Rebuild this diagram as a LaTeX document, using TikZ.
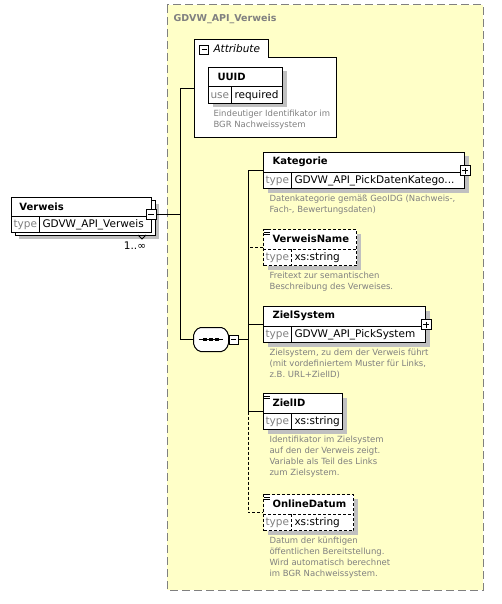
\documentclass[tikz,border=0pt]{standalone}
\usepackage{fontspec}
\setmainfont{DejaVu Sans}
\usetikzlibrary{calc,shadows}

\definecolor{groupyellow}{RGB}{255,255,200}
\definecolor{framegray}{RGB}{128,128,128}
\definecolor{docgray}{RGB}{128,128,128}
\definecolor{shadowgray}{RGB}{192,192,192}

\tikzset{
  elem/.style={draw,rectangle,fill=white,inner sep=0,minimum height=36,anchor=north west,
    drop shadow={shadow xshift=4pt,shadow yshift=-4pt,fill=shadowgray,opacity=1}},
  optelem/.style={elem,dash pattern=on 3pt off 2pt},
  ename/.style={anchor=west,inner sep=0,font=\bfseries\fontsize{10}{12}\selectfont},
  elabel/.style={anchor=west,inner sep=0,text=docgray,font=\fontsize{10.5}{12}\selectfont},
  etype/.style={anchor=west,inner sep=0,font=\fontsize{10.5}{12}\selectfont},
  edoc/.style={anchor=north west,inner sep=0,align=left,text=docgray,font=\fontsize{8.5}{11}\selectfont},
  pmbox/.style={draw,rectangle,fill=white,inner sep=0,minimum size=10,solid},
  minusbox/.style={pmbox,path picture={
    \draw ([xshift=2pt]path picture bounding box.west) -- ([xshift=-2pt]path picture bounding box.east);}},
  plusbox/.style={pmbox,path picture={
    \draw ([xshift=2pt]path picture bounding box.west) -- ([xshift=-2pt]path picture bounding box.east);
    \draw ([yshift=-2pt]path picture bounding box.north) -- ([yshift=2pt]path picture bounding box.south);}},
  noteicon/.style={inner sep=0,minimum width=6,minimum height=5,path picture={
    \foreach \k in {0,0.5,1}
      \draw[line width=0.7pt,solid] ($(path picture bounding box.north west)!\k!(path picture bounding box.south west)$)
        -- ($(path picture bounding box.north east)!\k!(path picture bounding box.south east)$);}},
  seqbox/.style={rectangle,minimum width=34,minimum height=23,inner sep=0},
  seqshadow/.style={fill=shadowgray},
  seqface/.style={draw,fill=white},
  optline/.style={dash pattern=on 3pt off 2pt}
}

\begin{document}
\begin{tikzpicture}[x=1pt,y=-1pt,line width=1pt]
\useasboundingbox (0,0) rectangle (501,604);

% Complex type frame
\draw[framegray,fill=groupyellow,dash pattern=on 8pt off 4pt] (167,5) rectangle (483,590);
\node[anchor=west,inner sep=0,text=framegray,font=\bfseries\fontsize{9.5}{12}\selectfont] (grouptitle) at (173,19) {GDVW\_API\_Verweis};

% Root element Verweis (repeated)
\fill[shadowgray] (19,204) rectangle (159,239);
\draw[fill=white] (15,200) rectangle (155,235);
\draw (138,235) -- (142,239) -- (146,235);
\node[draw,rectangle,fill=white,inner sep=0,minimum width=140,minimum height=35,anchor=north west] (verweis) at (11,197) {};
\draw ([yshift=-19pt]verweis.north west) -- ([yshift=-19pt]verweis.north east)
      ([shift={(28pt,-19pt)}]verweis.north west) -- ([xshift=28pt]verweis.south west);
\node[ename] (verweisname) at ([shift={(8pt,-10pt)}]verweis.north west) {Verweis};
\node[elabel] (verweislabel) at ([shift={(2pt,8pt)}]verweis.south west) {type};
\node[etype] (verweistype) at ([shift={(31pt,8pt)}]verweis.south west) {GDVW\_API\_Verweis};
\node[minusbox] (verweisminus) at (151,214) {};
\node[anchor=north,inner sep=0,font=\fontsize{10.5}{12}\selectfont] (verweisocc) at (135,241) {1..∞};

% Attribute group
\draw[fill=white] (194,138) -- (194,40) -- (268,40) -- (268,58) -- (336,58) -- (336,138) -- cycle;
\node[minusbox,minimum size=9] (attrminus) at (204,50) {};
\node[anchor=west,inner sep=0,font=\itshape\fontsize{10.5}{12}\selectfont] (attrtitle) at (213,49) {Attribute};
\coordinate (attrin) at (194,89);

% UUID
\node[elem,minimum width=74] (uuid) at (208,67) {};
\draw ([yshift=-20pt]uuid.north west) -- ([yshift=-20pt]uuid.north east)
      ([shift={(23pt,-20pt)}]uuid.north west) -- ([xshift=23pt]uuid.south west);
\node[ename] (uuidname) at ([shift={(9pt,-10pt)}]uuid.north west) {UUID};
\node[elabel] (uuidlabel) at ([shift={(2pt,8pt)}]uuid.south west) {use};
\node[etype] (uuidtype) at ([shift={(26pt,8pt)}]uuid.south west) {required};
\node[edoc] (uuiddoc) at ([shift={(5pt,-6pt)}]uuid.south west) {Eindeutiger Identifikator im\\BGR Nachweissystem};

% Sequence compositor
\node[seqbox] (seq) at (211,339.5) {};
\foreach \sh/\st in {4/seqshadow,0/seqface}
  \path[\st,rounded corners=2pt,xshift=\sh pt,yshift=-\sh pt]
    ([xshift=5pt]seq.north west) -- ([xshift=-5pt]seq.north east)
    -- ([yshift=-6pt]seq.north east) -- ([yshift=6pt]seq.south east)
    -- ([xshift=-5pt]seq.south east) -- ([xshift=5pt]seq.south west)
    -- ([yshift=6pt]seq.south west) -- ([yshift=-6pt]seq.north west) -- cycle;
\draw ([xshift=5pt]seq.west) -- ([xshift=-6pt]seq.east);
\foreach \dx in {-6,0,6}
  \fill ([xshift=\dx pt]seq.center) ++(-1.8,-1.8) rectangle ++(3.6,3.6);
\node[minusbox,minimum size=9] (seqminus) at (233.5,339.5) {};

% Kategorie
\node[elem,minimum width=201] (kat) at (263,152) {};
\draw ([yshift=-20pt]kat.north west) -- ([yshift=-20pt]kat.north east)
      ([shift={(28pt,-20pt)}]kat.north west) -- ([xshift=28pt]kat.south west);
\node[ename] (katname) at ([shift={(9pt,-10pt)}]kat.north west) {Kategorie};
\node[elabel] (katlabel) at ([shift={(2pt,8pt)}]kat.south west) {type};
\node[etype] (kattype) at ([shift={(31pt,8pt)}]kat.south west) {GDVW\_API\_PickDatenKatego...};
\node[plusbox] (katplus) at (kat.east) {};
\node[edoc] (katdoc) at ([shift={(6pt,-6pt)}]kat.south west) {Datenkategorie gemäß GeoIDG (Nachweis-,\\Fach-, Bewertungsdaten)};

% VerweisName
\node[optelem,minimum width=93] (vname) at (263,229) {};
\draw[optline] ([yshift=-20pt]vname.north west) -- ([yshift=-20pt]vname.north east)
      ([shift={(28pt,-20pt)}]vname.north west) -- ([xshift=28pt]vname.south west);
\node[noteicon] (vnameicon) at ([shift={(4pt,-3pt)}]vname.north west) {};
\node[ename] (vnamename) at ([shift={(9pt,-10pt)}]vname.north west) {VerweisName};
\node[elabel] (vnamelabel) at ([shift={(2pt,8pt)}]vname.south west) {type};
\node[etype] (vnametype) at ([shift={(31pt,8pt)}]vname.south west) {xs:string};
\node[edoc] (vnamedoc) at ([shift={(6pt,-6pt)}]vname.south west) {Freitext zur semantischen\\Beschreibung des Verweises.};

% ZielSystem
\node[elem,minimum width=162] (ziel) at (263,306) {};
\draw ([yshift=-20pt]ziel.north west) -- ([yshift=-20pt]ziel.north east)
      ([shift={(28pt,-20pt)}]ziel.north west) -- ([xshift=28pt]ziel.south west);
\node[ename] (zielname) at ([shift={(9pt,-10pt)}]ziel.north west) {ZielSystem};
\node[elabel] (ziellabel) at ([shift={(2pt,8pt)}]ziel.south west) {type};
\node[etype] (zieltype) at ([shift={(31pt,8pt)}]ziel.south west) {GDVW\_API\_PickSystem};
\node[plusbox] (zielplus) at (ziel.east) {};
\node[edoc] (zieldoc) at ([shift={(6pt,-6pt)}]ziel.south west) {Zielsystem, zu dem der Verweis führt\\(mit vordefiniertem Muster für Links,\\z.B. URL+ZielID)};

% ZielID
\node[elem,minimum width=79] (zid) at (263,393) {};
\draw ([yshift=-20pt]zid.north west) -- ([yshift=-20pt]zid.north east)
      ([shift={(28pt,-20pt)}]zid.north west) -- ([xshift=28pt]zid.south west);
\node[noteicon] (zidicon) at ([shift={(4pt,-3pt)}]zid.north west) {};
\node[ename] (zidname) at ([shift={(9pt,-10pt)}]zid.north west) {ZielID};
\node[elabel] (zidlabel) at ([shift={(2pt,8pt)}]zid.south west) {type};
\node[etype] (zidtype) at ([shift={(31pt,8pt)}]zid.south west) {xs:string};
\node[edoc] (ziddoc) at ([shift={(6pt,-6pt)}]zid.south west) {Identifikator im Zielsystem\\auf den der Verweis zeigt.\\Variable als Teil des Links\\zum Zielsystem.};

% OnlineDatum
\node[optelem,minimum width=90] (odat) at (263,494) {};
\draw[optline] ([yshift=-20pt]odat.north west) -- ([yshift=-20pt]odat.north east)
      ([shift={(28pt,-20pt)}]odat.north west) -- ([xshift=28pt]odat.south west);
\node[noteicon] (odaticon) at ([shift={(4pt,-3pt)}]odat.north west) {};
\node[ename] (odatname) at ([shift={(9pt,-10pt)}]odat.north west) {OnlineDatum};
\node[elabel] (odatlabel) at ([shift={(2pt,8pt)}]odat.south west) {type};
\node[etype] (odattype) at ([shift={(31pt,8pt)}]odat.south west) {xs:string};
\node[edoc] (odatdoc) at ([shift={(6pt,-6pt)}]odat.south west) {Datum der künftigen\\öffentlichen Bereitstellung.\\Wird automatisch berechnet\\im BGR Nachweissystem.};

% Connectors
\coordinate (busa) at (180,89);
\coordinate (busb) at (248,170);
\draw (attrin) -- (busa) |- (seq.west);
\draw (verweisminus.east) -- (verweisminus.east -| busa);
\draw (seq.east) -- (seqminus.west);
\draw (seqminus.east) -- (seqminus.east -| busb);
\draw (kat.west) -- (kat.west -| busb) -- (zid.west -| busb) -- (zid.west);
\draw[optline] (zid.west -| busb) -- (odat.west -| busb) -- (odat.west);
\draw[optline] (vname.west) -- (vname.west -| busb);
\draw (ziel.west) -- (ziel.west -| busb);
\end{tikzpicture}
\end{document}
